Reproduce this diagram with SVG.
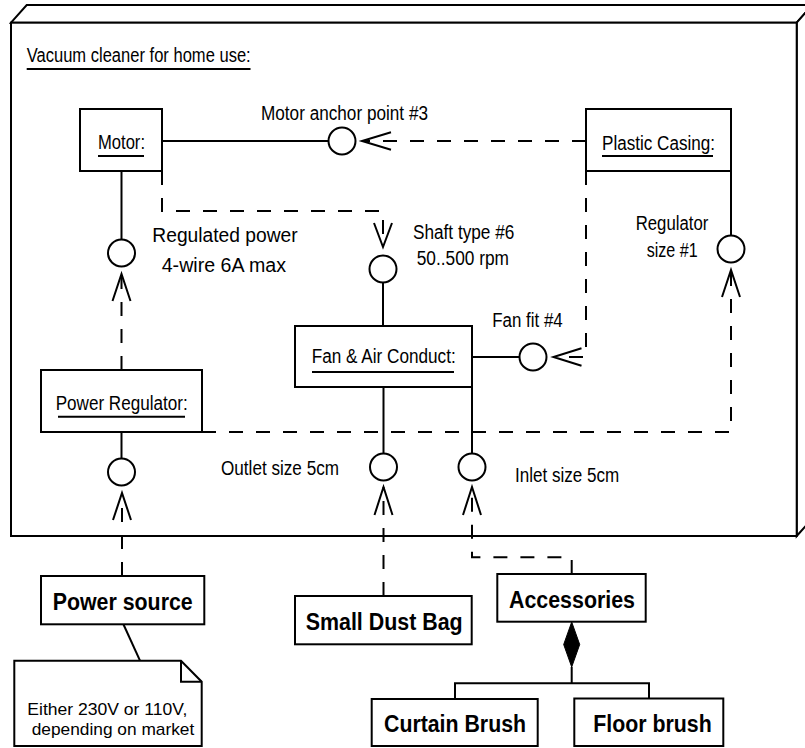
<svg xmlns="http://www.w3.org/2000/svg" width="805" height="748" viewBox="0 0 805 748">
<style>
.s{fill:none;stroke:#000;stroke-width:2}
.b{fill:#fff;stroke:#000;stroke-width:2}
.d{fill:none;stroke:#000;stroke-width:2;stroke-dasharray:14 13}
.a{fill:none;stroke:#000;stroke-width:2}
.t{font-family:"Liberation Sans",Arial,sans-serif;font-size:19.5px;fill:#000}
.n{font-family:"Liberation Sans",Arial,sans-serif;font-size:17px;fill:#000}
.bt{font-family:"Liberation Sans",Arial,sans-serif;font-size:23px;font-weight:bold;fill:#000}
.u{stroke:#000;stroke-width:2}
</style>
<rect width="805" height="748" fill="#fff"/>
<g id="vacuum-cleaner">
<polygon class="b" points="11,22.7 26.7,5 812.4,5 796.7,22.7"/>
<polygon class="b" points="796.7,22.7 812.4,5 812.4,518.3 796.7,536"/>
<rect class="b" x="11" y="22.7" width="785.7" height="513.3"/>
<text class="t" x="26.7" y="62" textLength="224" lengthAdjust="spacingAndGlyphs">Vacuum cleaner for home use:</text>
<line class="u" x1="26.7" y1="69" x2="250.5" y2="69"/>
</g>
<g id="connectors">
<path class="s" d="M162,141 H328.5"/>
<path class="s" d="M121.5,171 V239.5"/>
<path class="s" d="M731,171 V235.5"/>
<path class="s" d="M383,282.5 V326"/>
<path class="s" d="M472,357 H519.5"/>
<path class="s" d="M121.5,432 V458.5"/>
<path class="s" d="M383.5,387 V453.5"/>
<path class="s" d="M472,387 V453.5"/>
<path class="d" d="M586,141 H362"/>
<path class="a" d="M391,132.3 L362,141 L391,149.7"/>
<path class="d" d="M162,171 V211 H383 V247"/>
<path class="a" d="M374,223 L383,247 L392,223"/>
<path class="d" d="M586,171 V357 H553.5"/>
<path class="a" d="M581.5,348.3 L553.5,357 L581.5,365.7"/>
<path class="d" d="M121.5,370 V274"/>
<path class="a" d="M112.5,301 L121.5,274 L130.5,301"/>
<path class="d" d="M202,432 H731 V270"/>
<path class="a" d="M722,297 L731,270 L740,297"/>
<path class="d" d="M122,576 V493"/>
<path class="a" d="M113,520 L122,493 L131,520"/>
<path class="d" d="M383.5,596 V487"/>
<path class="a" d="M374.5,515 L383.5,487 L392.5,515"/>
<path class="d" d="M571.7,574 V557.3 H472 V487"/>
<path class="a" d="M463,515 L472,487 L481,515"/>
<polygon points="571.7,622 579.7,644.5 571.7,667 563.7,644.5" fill="#000" stroke="#000" stroke-width="1"/>
<path class="s" d="M571.7,667 V683.3 M455,699 V683.3 H649 V698.5"/>
<path class="s" d="M123.3,624 L140,660.7"/>
</g>
<g id="motor">
<rect class="b" x="80" y="109" width="82" height="62"/>
<text class="t" x="98" y="149.3" textLength="47" lengthAdjust="spacingAndGlyphs">Motor:</text>
<line class="u" x1="98" y1="156" x2="144" y2="156"/>
</g>
<g id="motor-anchor-point">
<circle class="b" cx="342" cy="141" r="13.5"/>
<text class="t" x="261" y="120" textLength="167" lengthAdjust="spacingAndGlyphs">Motor anchor point #3</text>
</g>
<g id="plastic-casing">
<rect class="b" x="586" y="109" width="145" height="62"/>
<text class="t" x="602" y="150" textLength="113" lengthAdjust="spacingAndGlyphs">Plastic Casing:</text>
<line class="u" x1="602" y1="156" x2="713" y2="156"/>
</g>
<g id="regulated-power">
<circle class="b" cx="121.5" cy="253" r="13.5"/>
<text class="t" x="152.3" y="241.7" textLength="145.4" lengthAdjust="spacingAndGlyphs">Regulated power</text>
<text class="t" x="161.7" y="271.7" textLength="124.3" lengthAdjust="spacingAndGlyphs">4-wire 6A max</text>
</g>
<g id="shaft-type">
<circle class="b" cx="383" cy="269" r="13.5"/>
<text class="t" x="413" y="239" textLength="101.3" lengthAdjust="spacingAndGlyphs">Shaft type #6</text>
<text class="t" x="416.7" y="265" textLength="92.3" lengthAdjust="spacingAndGlyphs">50..500 rpm</text>
</g>
<g id="regulator-size">
<circle class="b" cx="731" cy="249" r="13.5"/>
<text class="t" x="635.7" y="230" textLength="72.6" lengthAdjust="spacingAndGlyphs">Regulator</text>
<text class="t" x="646.7" y="256.7" textLength="51" lengthAdjust="spacingAndGlyphs">size #1</text>
</g>
<g id="fan-fit">
<circle class="b" cx="533" cy="357" r="13.5"/>
<text class="t" x="492.3" y="326.7" textLength="70.4" lengthAdjust="spacingAndGlyphs">Fan fit #4</text>
</g>
<g id="fan-air-conduct">
<rect class="b" x="295" y="326" width="177" height="61"/>
<text class="t" x="311.7" y="363.3" textLength="144" lengthAdjust="spacingAndGlyphs">Fan &amp; Air Conduct:</text>
<line class="u" x1="312" y1="372" x2="454" y2="372"/>
</g>
<g id="power-regulator">
<rect class="b" x="41" y="370" width="161" height="62"/>
<text class="t" x="55.7" y="410" textLength="132" lengthAdjust="spacingAndGlyphs">Power Regulator:</text>
<line class="u" x1="58" y1="416.7" x2="185" y2="416.7"/>
</g>
<g id="power-input">
<circle class="b" cx="121.5" cy="472" r="13.5"/>
</g>
<g id="outlet">
<circle class="b" cx="383.5" cy="467" r="13.5"/>
<text class="t" x="221" y="475" textLength="118" lengthAdjust="spacingAndGlyphs">Outlet size 5cm</text>
</g>
<g id="inlet">
<circle class="b" cx="472" cy="467" r="13.5"/>
<text class="t" x="515" y="481.7" textLength="104.3" lengthAdjust="spacingAndGlyphs">Inlet size 5cm</text>
</g>
<g id="power-source">
<rect class="b" x="41" y="576" width="163.3" height="48.3"/>
<text class="bt" x="52.7" y="610" textLength="140" lengthAdjust="spacingAndGlyphs">Power source</text>
</g>
<g id="small-dust-bag">
<rect class="b" x="295" y="596" width="176.7" height="48.3"/>
<text class="bt" x="305.7" y="630" textLength="157" lengthAdjust="spacingAndGlyphs">Small Dust Bag</text>
</g>
<g id="accessories">
<rect class="b" x="497.3" y="574" width="148.4" height="47.7"/>
<text class="bt" x="509" y="608.3" textLength="126" lengthAdjust="spacingAndGlyphs">Accessories</text>
</g>
<g id="curtain-brush">
<rect class="b" x="371.7" y="699" width="166" height="47"/>
<text class="bt" x="384" y="732" textLength="142" lengthAdjust="spacingAndGlyphs">Curtain Brush</text>
</g>
<g id="floor-brush">
<rect class="b" x="574.3" y="698.5" width="149" height="47.5"/>
<text class="bt" x="593.3" y="732" textLength="118.4" lengthAdjust="spacingAndGlyphs">Floor brush</text>
</g>
<g id="note">
<path class="b" d="M14.3,660.7 H181 L201.7,681.7 V746 H14.3 Z"/>
<path class="s" d="M181,660.7 V681.7 H201.7"/>
<text class="n" x="27.3" y="714.5" textLength="160" lengthAdjust="spacingAndGlyphs">Either 230V or 110V,</text>
<text class="n" x="31.7" y="734.5" textLength="162.6" lengthAdjust="spacingAndGlyphs">depending on market</text>
</g>
</svg>
